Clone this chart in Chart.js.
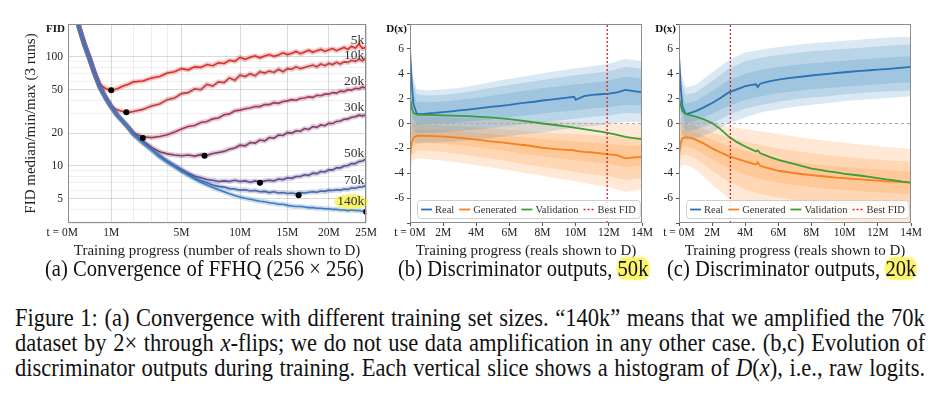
<!DOCTYPE html>
<html>
<head>
<meta charset="utf-8">
<script src="https://cdn.jsdelivr.net/npm/chart.js@4.4.1/dist/chart.umd.min.js"></script>
<style>
  body { margin: 0; background: #fff; width: 940px; height: 394px; overflow: hidden; position: relative; }
  canvas { position: absolute; top: 0; }
  #chartA { left: 0; }
  #chartB { left: 372px; }
  #chartC { left: 641px; }
  .sub { position: absolute; top: 256px; font: 22.5px "Liberation Serif", serif; color: #111; white-space: nowrap; line-height: 26px;
         transform: scaleX(0.915); transform-origin: 0 50%; }
  .hl { display: inline-block; line-height: 21px; background: #fbf46e; border-radius: 8px; box-shadow: 0 0 2px 1px #fbf46e; }
  .cap { position: absolute; left: 15px; display: inline-block; white-space: nowrap; font: 25px "Liberation Serif", serif; color: #111; line-height: 25px;
         transform: scaleX(0.9); transform-origin: 0 50%; }
</style>
</head>
<body>
<canvas id="chartA" width="380" height="262"></canvas>
<canvas id="chartB" width="283" height="262"></canvas>
<canvas id="chartC" width="283" height="262"></canvas>

<div class="sub" style="left:45px">(a) Convergence of FFHQ (256 × 256)</div>
<div class="sub" style="left:398px">(b) Discriminator outputs, <span class="hl">50k</span></div>
<div class="sub" style="left:667px">(c) Discriminator outputs, <span class="hl">20k</span></div>

<div class="cap" style="top:305px">Figure 1: (a) Convergence with different training set sizes. “140k” means that we amplified the 70k</div>
<div class="cap" style="top:330px">dataset by 2× through <i>x</i>-flips; we do not use data amplification in any other case. (b,c) Evolution of</div>
<div class="cap" style="top:355px">discriminator outputs during training. Each vertical slice shows a histogram of <i>D</i>(<i>x</i>), i.e., raw logits.</div>

<script>
// ---- (a) FID vs training progress (millions of reals) ----
const xA = [0.05, 0.1, 0.2, 0.3, 0.45, 0.6, 0.8, 1, 1.25, 1.5, 1.75, 2, 2.5, 3, 3.5, 4, 4.5, 5, 5.5, 6, 6.5, 7, 7.5, 8, 8.5, 9, 9.5, 10,
  10.5, 11, 11.5, 12, 12.5, 13, 13.5, 14, 14.5, 15, 15.5, 16, 16.5, 17, 17.5, 18, 18.5, 19, 19.5, 20, 20.5, 21, 21.5, 22, 22.5, 23, 23.5, 24, 24.5, 25];

const fid5k = [320, 190, 130, 100, 70, 56, 51, 49.5, 51, 54, 56, 59, 60, 64, 66, 71, 73, 78, 76, 81, 80, 85, 83, 88, 87, 93, 91, 99,
  95, 99, 102, 98, 102, 105, 101, 104, 109, 105, 108, 112, 107, 111, 115, 110, 114, 117, 112, 116, 119, 114, 118, 122, 117, 125, 120, 131, 119, 123];
const fid10k = [320, 190, 130, 100, 70, 53, 42, 35, 32.5, 31.5, 31, 31.5, 33, 35.5, 37, 40.5, 42, 46, 47, 51, 50, 56, 54, 59, 58, 64, 61, 68,
  66, 70, 67, 73, 71, 74, 72, 77, 73, 78, 77, 81, 78, 80, 82, 84, 81, 86, 83, 87, 85, 89, 86, 90, 89, 93, 91, 95, 92, 98];
const fid20k = [320, 190, 130, 100, 70, 53, 42, 35, 29, 25.5, 22.5, 20, 18.5, 18.2, 18.6, 19.3, 20.5, 21.8, 23, 23.5, 25, 25.5, 27, 27.5, 29.5, 30, 32, 32.5,
  33.5, 34, 35, 35, 36.5, 36.5, 38, 37.5, 39, 39.5, 40.5, 40, 41.5, 42, 43, 42.5, 44.5, 44, 45.5, 45.5, 47, 46.5, 48.5, 48, 50, 49.5, 51.5, 51, 53, 51.5];
const fid30k = [320, 190, 130, 100, 70, 53, 42, 35, 29, 25.5, 22.5, 19.8, 16.9, 14.8, 13.5, 12.9, 12.6, 12.4, 12.6, 12.3, 12.7, 12.5, 13.0, 13.3, 13.6, 14.2, 14.6, 15.5,
  15.3, 16.4, 16.2, 17.3, 17.0, 18.2, 18.0, 19.2, 19.0, 20.2, 20.0, 21.0, 20.8, 22.0, 21.6, 23.0, 22.6, 23.8, 23.4, 24.6, 24.5, 25.6, 25.8, 26.8, 27.0, 28.0, 28.2, 29.2, 28.8, 29.5];
const fid50k = [320, 190, 130, 100, 70, 53, 42, 35, 29, 25.5, 22.5, 19.6, 16.5, 14.3, 12.4, 11.1, 10.1, 9.3, 8.6, 8.1, 7.8, 7.5, 7.4, 7.2, 7.3, 7.2, 7.4, 7.2,
  7.3, 7.1, 7.3, 7.1, 7.3, 7.4, 7.3, 7.6, 7.5, 7.8, 7.7, 8.0, 8.0, 8.3, 8.2, 8.6, 8.5, 8.9, 8.8, 9.2, 9.2, 9.6, 9.6, 10.0, 10.1, 10.5, 10.5, 11.0, 11.1, 11.6];
const fid70k = [320, 190, 130, 100, 70, 53, 42, 35, 29, 25.5, 22.5, 19.5, 16.4, 14.2, 12.3, 11.0, 10.0, 9.1, 8.4, 7.8, 7.3, 7.0, 6.7, 6.5, 6.4, 6.2, 6.15, 6.0,
  6.05, 5.9, 5.95, 5.8, 5.85, 5.7, 5.8, 5.65, 5.7, 5.6, 5.65, 5.55, 5.7, 5.65, 5.75, 5.8, 5.75, 5.9, 5.85, 6.0, 5.95, 6.05, 6.0, 6.15, 6.1, 6.3, 6.25, 6.4, 6.45, 6.6];
const fid140k = [320, 190, 130, 100, 70, 53, 42, 35, 29, 25.5, 22.5, 19.4, 16.3, 14.0, 12.1, 10.8, 9.8, 8.9, 8.2, 7.6, 7.1, 6.7, 6.35, 6.05, 5.8, 5.55, 5.35, 5.2,
  5.05, 4.95, 4.85, 4.75, 4.7, 4.6, 4.55, 4.45, 4.45, 4.35, 4.3, 4.25, 4.25, 4.2, 4.15, 4.15, 4.1, 4.1, 4.05, 4.05, 4.0, 4.0, 3.95, 3.95, 3.9, 3.95, 3.9, 3.9, 3.85, 3.85];

const sizeNames = ['5k', '10k', '20k', '30k', '50k', '70k', '140k'];
const bestX = [1, 1.65, 2.5, 6.8, 12, 16.3, 25];
const bestFid = [49.5, 31, 18, 12.4, 7.0, 5.4, 3.8];

const xTicksA = [0, 1, 2, 3, 4, 5, 10, 15, 20, 25];
const xLabelsA = [0, 1, 5, 10, 15, 20, 25];
const yTicksA = [3, 4, 5, 6, 7, 8, 9, 10, 20, 30, 40, 50, 60, 70, 80, 90, 100, 200];
const yLabelsA = [5, 10, 20, 50, 100];

// ---- (b) / (c) discriminator outputs ----
const xB = [0, 0.1, 0.2, 0.4, 0.7, 1, 1.5, 2, 2.5, 3, 3.5, 4, 4.5, 5, 5.5, 6, 6.5, 7, 7.5, 8, 8.5, 9, 9.5, 9.9, 10, 10.5, 11, 11.5, 12, 12.5, 13, 13.5, 14];
const realB = [6.0, 3.4, 1.6, 0.8, 0.75, 0.8, 0.85, 0.92, 0.98, 1.05, 1.12, 1.2, 1.28, 1.35, 1.42, 1.5, 1.6, 1.68, 1.75, 1.85, 1.92, 2.0, 2.08, 2.15, 1.9, 2.2, 2.3, 2.35, 2.4, 2.5, 2.7, 2.6, 2.5];
const genB = [-2.6, -1.6, -1.15, -1.0, -0.98, -1.0, -1.02, -1.05, -1.1, -1.15, -1.22, -1.3, -1.38, -1.45, -1.52, -1.6, -1.68, -1.75, -1.85, -1.95, -2.02, -2.08, -2.12, -2.15, -2.2, -2.28, -2.33, -2.4, -2.48, -2.55, -2.8, -2.72, -2.68];
const valB = [2.0, 1.3, 0.85, 0.72, 0.7, 0.69, 0.68, 0.66, 0.64, 0.62, 0.59, 0.56, 0.52, 0.47, 0.41, 0.35, 0.27, 0.18, 0.09, 0.0, -0.08, -0.16, -0.25, -0.33, -0.36, -0.45, -0.55, -0.65, -0.78, -0.92, -1.08, -1.18, -1.25];
const bestB = 11.9;

const xC = [0, 0.1, 0.2, 0.4, 0.7, 1, 1.5, 2, 2.5, 3, 3.5, 4, 4.4, 4.65, 4.75, 4.9, 5.2, 5.5, 6, 6.5, 7, 7.5, 8, 8.5, 9, 9.5, 10, 10.5, 11, 11.5, 12, 12.5, 13, 13.5, 14];
const realC = [5.5, 3.0, 1.4, 0.75, 0.85, 1.0, 1.3, 1.65, 2.05, 2.5, 2.75, 3.0, 3.1, 3.15, 2.92, 3.2, 3.3, 3.4, 3.52, 3.62, 3.7, 3.78, 3.86, 3.93, 3.99, 4.06, 4.12, 4.18, 4.23, 4.28, 4.33, 4.38, 4.44, 4.5, 4.55];
const genC = [-2.6, -1.6, -1.2, -1.1, -1.15, -1.3, -1.62, -2.0, -2.32, -2.62, -2.85, -3.05, -3.2, -3.3, -3.12, -3.4, -3.52, -3.62, -3.8, -3.9, -4.0, -4.08, -4.15, -4.22, -4.28, -4.35, -4.4, -4.45, -4.5, -4.55, -4.6, -4.65, -4.68, -4.72, -4.75];
const valC = [2.0, 1.5, 1.0, 0.75, 0.65, 0.55, 0.33, 0.03, -0.45, -1.05, -1.5, -1.85, -2.1, -2.25, -2.15, -2.4, -2.55, -2.7, -2.92, -3.1, -3.27, -3.45, -3.62, -3.72, -3.85, -3.93, -4.05, -4.12, -4.2, -4.3, -4.4, -4.5, -4.58, -4.68, -4.75];
const bestC = 3.1;

// histogram quantile bands (outer -> inner), sampled coarser
const xBand = [0, 0.15, 0.4, 1, 2, 3, 4, 5, 6, 7, 8, 9, 10, 11, 12, 13, 14];

const realBu3 = [6.2, 4.0, 2.75, 2.65, 2.75, 2.85, 3.1, 3.35, 3.6, 3.8, 4.05, 4.25, 4.45, 4.6, 4.8, 5.2, 5.0];
const realBu2 = [5.7, 3.5, 2.35, 2.25, 2.3, 2.45, 2.65, 2.9, 3.1, 3.3, 3.5, 3.7, 3.9, 4.05, 4.2, 4.55, 4.4];
const realBu1 = [4.8, 2.7, 1.75, 1.7, 1.75, 1.9, 2.05, 2.25, 2.45, 2.65, 2.85, 3.0, 3.15, 3.3, 3.45, 3.75, 3.6];
const realBl1 = [2.0, 0.5, -0.1, -0.05, 0.0, 0.1, 0.2, 0.35, 0.5, 0.65, 0.8, 0.95, 1.05, 1.2, 1.3, 1.5, 1.45];
const realBl2 = [0.8, -0.4, -0.8, -0.75, -0.7, -0.6, -0.5, -0.35, -0.2, -0.05, 0.1, 0.25, 0.4, 0.55, 0.65, 0.85, 0.8];
const realBl3 = [-0.5, -1.3, -1.6, -1.55, -1.5, -1.4, -1.3, -1.15, -1.0, -0.85, -0.7, -0.5, -0.35, -0.2, -0.05, 0.15, 0.1];
const genBu3 = [0.5, 0.7, 0.6, 0.55, 0.5, 0.45, 0.4, 0.35, 0.3, 0.25, 0.2, 0.15, 0.1, 0.05, 0.0, -0.05, 0.0];
const genBu2 = [-0.5, 0.0, -0.05, -0.1, -0.15, -0.2, -0.3, -0.4, -0.5, -0.6, -0.7, -0.8, -0.85, -0.95, -1.0, -1.1, -1.05];
const genBu1 = [-1.5, -0.5, -0.5, -0.5, -0.55, -0.65, -0.75, -0.85, -1.0, -1.1, -1.25, -1.35, -1.45, -1.55, -1.65, -1.8, -1.75];
const genBl1 = [-3.3, -1.9, -1.6, -1.55, -1.6, -1.75, -1.9, -2.05, -2.25, -2.45, -2.65, -2.8, -2.95, -3.1, -3.25, -3.5, -3.4];
const genBl2 = [-3.7, -2.5, -2.2, -2.2, -2.3, -2.45, -2.65, -2.85, -3.05, -3.3, -3.5, -3.7, -3.9, -4.1, -4.25, -4.55, -4.4];
const genBl3 = [-4.2, -3.0, -2.8, -2.85, -3.0, -3.15, -3.35, -3.55, -3.75, -4.0, -4.2, -4.45, -4.65, -4.9, -5.1, -5.5, -5.3];

const realCu3 = [6.0, 4.0, 2.9, 3.1, 4.1, 5.1, 5.7, 5.95, 6.15, 6.3, 6.45, 6.55, 6.65, 6.75, 6.85, 6.95, 6.95];
const realCu2 = [5.5, 3.4, 2.3, 2.5, 3.4, 4.4, 5.0, 5.3, 5.5, 5.65, 5.8, 5.9, 6.0, 6.1, 6.2, 6.3, 6.35];
const realCu1 = [4.5, 2.6, 1.6, 1.8, 2.6, 3.5, 4.0, 4.35, 4.55, 4.7, 4.85, 4.95, 5.05, 5.15, 5.25, 5.35, 5.4];
const realCl1 = [2.5, 0.8, 0.0, 0.2, 0.8, 1.4, 1.9, 2.2, 2.45, 2.6, 2.75, 2.85, 2.95, 3.05, 3.15, 3.25, 3.3];
const realCl2 = [1.5, 0.0, -0.6, -0.5, 0.0, 0.7, 1.2, 1.5, 1.75, 1.95, 2.1, 2.2, 2.35, 2.45, 2.55, 2.6, 2.65];
const realCl3 = [0.5, -0.8, -1.3, -1.2, -0.7, 0.0, 0.5, 0.9, 1.15, 1.35, 1.5, 1.65, 1.8, 1.9, 2.0, 2.1, 2.2];
const genCu3 = [0.3, 0.5, 0.6, 0.4, 0.0, -0.25, -0.45, -0.65, -0.85, -1.05, -1.25, -1.4, -1.55, -1.7, -1.8, -1.95, -2.05];
const genCu2 = [-0.5, -0.1, 0.0, -0.2, -0.7, -1.1, -1.45, -1.75, -2.0, -2.2, -2.4, -2.55, -2.7, -2.8, -2.9, -3.0, -3.05];
const genCu1 = [-1.5, -0.6, -0.5, -0.7, -1.3, -1.8, -2.2, -2.6, -2.85, -3.05, -3.25, -3.4, -3.5, -3.6, -3.7, -3.8, -3.85];
const genCl1 = [-3.0, -1.9, -1.8, -2.1, -2.9, -3.6, -4.1, -4.5, -4.75, -4.95, -5.1, -5.25, -5.35, -5.45, -5.55, -5.6, -5.65];
const genCl2 = [-3.5, -2.6, -2.5, -2.8, -3.8, -4.7, -5.3, -5.7, -5.95, -6.15, -6.3, -6.45, -6.55, -6.65, -6.7, -6.75, -6.8];
const genCl3 = [-4.0, -3.4, -3.3, -3.7, -4.9, -6.0, -6.8, -7.2, -7.45, -7.6, -7.7, -7.8, -7.85, -7.9, -7.95, -8.0, -8.0];

const legendNames = ['Real', 'Generated', 'Validation', 'Best FID'];

// ---- styling ----
const sizeColors = ['#d9302c', '#c43b40', '#a23a57', '#813d6c', '#5f4c8e', '#4866a8', '#3a7dc0'];
const BLUE = '#2a73b5', ORANGE = '#f5801e', GREEN = '#3a9e3a', RED = '#d62728';
const BLUE_RGB = '31,119,180', ORANGE_RGB = '255,127,14';

Chart.defaults.font.family = '"Liberation Serif", "Times New Roman", serif';
Chart.defaults.font.size = 11.5;
Chart.defaults.color = '#222';
Chart.defaults.animation = false;

// x axis of (a) is a power-compressed axis
const POW = 0.6;
class PowScale extends Chart.LinearScale {
  getPixelForValue(value) {
    if (value === null || value === undefined || isNaN(value)) return NaN;
    const d = Math.pow(Math.max(0, (value - this.min) / (this.max - this.min)), POW);
    return this.getPixelForDecimal(d);
  }
  getValueForPixel(pixel) {
    return this.min + (this.max - this.min) * Math.pow(this.getDecimalForPixel(pixel), 1 / POW);
  }
}
PowScale.id = 'pow';
PowScale.defaults = Chart.LinearScale.defaults;
Chart.register(PowScale);

const pts = (xs, ys) => xs.map((x, i) => ({ x: x, y: ys[i] }));

const framePlugin = {
  id: 'frame',
  afterDraw(chart, args, opts) {
    const { ctx, chartArea: a } = chart;
    ctx.save();
    ctx.strokeStyle = '#8c8c8c';
    ctx.lineWidth = 1;
    ctx.strokeRect(Math.round(a.left) + 0.5, Math.round(a.top) + 0.5, Math.round(a.right - a.left) - 1, Math.round(a.bottom - a.top) - 1);
    ctx.font = 'bold 11px "Liberation Serif"';
    ctx.fillStyle = '#111';
    ctx.textAlign = 'right';
    ctx.textBaseline = 'middle';
    ctx.fillText(opts.label, a.left - 3, a.top + 5);
    ctx.restore();
  }
};

// size tags at the right end of each curve in (a)
const tagAt = [140, 104, 59, 34.5, 12.9, 7.3, 4.7];
const curveTags = {
  id: 'curveTags',
  afterDatasetsDraw(chart) {
    const { ctx, chartArea: a, scales } = chart;
    ctx.save();
    ctx.font = '13.5px "Liberation Serif"';
    ctx.textAlign = 'right';
    ctx.textBaseline = 'middle';
    sizeNames.forEach((name, i) => {
      const py = scales.y.getPixelForValue(tagAt[i]);
      if (name === '140k') {
        ctx.fillStyle = 'rgba(250,243,90,0.9)';
        ctx.beginPath();
        ctx.ellipse(a.right - 15, py, 17, 7.5, 0, 0, Math.PI * 2);
        ctx.fill();
      }
      ctx.fillStyle = '#333';
      ctx.fillText(name, a.right - 2, py);
    });
    ctx.restore();
  }
};

const legendBox = {
  id: 'legendBox',
  afterDraw(chart) {
    const { ctx, chartArea: a } = chart;
    const colors = [BLUE, ORANGE, GREEN, RED];
    ctx.save();
    ctx.font = '10.5px "Liberation Serif"';
    const sample = 11, gap = 3, itemGap = 5, pad = 4;
    const widths = legendNames.map(t => ctx.measureText(t).width);
    const w = pad * 2 + widths.reduce((s, v) => s + v + sample + gap, 0) + itemGap * 3;
    const x0 = a.left + 7, y0 = a.bottom - 23, h = 18;
    ctx.fillStyle = 'rgba(255,255,255,0.85)';
    ctx.strokeStyle = '#cfcfcf';
    ctx.lineWidth = 1;
    ctx.beginPath();
    ctx.roundRect(x0 + 0.5, y0 + 0.5, w, h, 3);
    ctx.fill();
    ctx.stroke();
    let x = x0 + pad;
    const cy = y0 + h / 2 + 0.5;
    legendNames.forEach((t, i) => {
      ctx.strokeStyle = colors[i];
      ctx.lineWidth = i === 3 ? 1.3 : 1.8;
      ctx.setLineDash(i === 3 ? [2, 2] : []);
      ctx.beginPath();
      ctx.moveTo(x, cy);
      ctx.lineTo(x + sample, cy);
      ctx.stroke();
      ctx.setLineDash([]);
      ctx.fillStyle = '#333';
      ctx.textBaseline = 'middle';
      ctx.fillText(t, x + sample + gap, cy + 0.5);
      x += sample + gap + widths[i] + itemGap;
    });
    ctx.restore();
  }
};

// ---- chart (a) ----
const curves = [fid5k, fid10k, fid20k, fid30k, fid50k, fid70k, fid140k];
const dsA = [];
curves.forEach((c, i) => {
  const col = sizeColors[i];
  dsA.push({ data: pts(xA, c), borderColor: col + '44', borderWidth: 5, pointRadius: 0, fill: false });
  dsA.push({ data: pts(xA, c), borderColor: col, borderWidth: 1.6, pointRadius: 0, fill: false });
});
dsA.push({ data: pts(bestX, bestFid), showLine: false, pointRadius: 3, pointBackgroundColor: '#000', pointBorderWidth: 0 });
dsA.forEach((d, i) => { d.order = dsA.length - i; });

new Chart(document.getElementById('chartA'), {
  type: 'line',
  data: { datasets: dsA },
  options: {
    responsive: false,
    devicePixelRatio: 1,
    layout: { padding: { left: 18, right: 7, top: 24, bottom: 0 } },
    elements: { line: { tension: 0 } },
    plugins: { legend: { display: false }, tooltip: { enabled: false }, frame: { label: 'FID' } },
    scales: {
      x: {
        type: 'pow', min: 0, max: 25,
        afterBuildTicks: s => { s.ticks = xTicksA.map(v => ({ value: v })); },
        afterFit: s => { s.height = 39; },
        border: { display: false },
        grid: {
          drawTicks: false,
          color: c => xLabelsA.includes(c.tick.value) ? 'rgba(0,0,0,0.15)' : 'rgba(0,0,0,0.07)'
        },
        ticks: {
          autoSkip: false, maxRotation: 0, padding: 3,
          callback: v => v === 0 ? 't = 0M\u2002\u2002' : (xLabelsA.includes(v) ? v + 'M' : '')
        },
        title: { display: true, text: 'Training progress (number of reals shown to D)', font: { size: 15 }, padding: { top: 0, bottom: 2 } }
      },
      y: {
        type: 'logarithmic', min: 3, max: 200,
        afterBuildTicks: s => { s.ticks = yTicksA.map(v => ({ value: v })); },
        afterFit: s => { s.width = 50; },
        border: { display: false },
        grid: {
          drawTicks: false,
          color: c => yLabelsA.includes(c.tick.value) ? 'rgba(0,0,0,0.15)' : 'rgba(0,0,0,0.06)'
        },
        ticks: { autoSkip: false, padding: 5, callback: v => yLabelsA.includes(v) ? String(v) : '' },
        title: { display: true, text: 'FID median/min/max (3 runs)', font: { size: 15 }, padding: { top: 4, bottom: 0 } }
      }
    }
  },
  plugins: [framePlugin, curveTags]
});

// ---- charts (b) and (c) ----
function discChart(id, xs, real, gen, val, realBands, genBands, best) {
  const ds = [];
  const addBands = (lo, hi, rgb) => {
    for (let k = 0; k < lo.length; k++) {
      ds.push({ data: pts(xBand, lo[k]), borderWidth: 0, pointRadius: 0, fill: false });
      ds.push({ data: pts(xBand, hi[k]), borderWidth: 0, pointRadius: 0, fill: '-1', backgroundColor: 'rgba(' + rgb + ',0.17)' });
    }
  };
  addBands(genBands.lo, genBands.hi, ORANGE_RGB);
  addBands(realBands.lo, realBands.hi, BLUE_RGB);
  ds.push({ data: pts([0, 14], [0, 0]), borderColor: '#a8a8a8', borderWidth: 1, borderDash: [3, 3], pointRadius: 0, fill: false });
  ds.push({ data: pts(xs, gen), borderColor: ORANGE, borderWidth: 1.8, pointRadius: 0, fill: false });
  ds.push({ data: pts(xs, real), borderColor: BLUE, borderWidth: 1.8, pointRadius: 0, fill: false });
  ds.push({ data: pts(xs, val), borderColor: GREEN, borderWidth: 1.8, pointRadius: 0, fill: false });
  ds.push({ data: pts([best, best], [-8, 8]), borderColor: RED, borderWidth: 1.3, borderDash: [2, 2], pointRadius: 0, fill: false });
  ds.forEach((d, i) => { d.order = ds.length - i; });

  return new Chart(document.getElementById(id), {
    type: 'line',
    data: { datasets: ds },
    options: {
      responsive: false,
      devicePixelRatio: 1,
      layout: { padding: { left: 0, right: 13, top: 24, bottom: 0 } },
      elements: { line: { tension: 0 } },
      plugins: { legend: { display: false }, tooltip: { enabled: false }, frame: { label: 'D(x)' } },
      scales: {
        x: {
          type: 'linear', min: 0, max: 14,
          afterFit: s => { s.height = 39; },
          border: { display: false },
          grid: { drawOnChartArea: false, tickLength: 3, color: '#555' },
          ticks: { stepSize: 2, autoSkip: false, maxRotation: 0, padding: 0, callback: v => v === 0 ? 't = 0M' : v + 'M' },
          title: { display: true, text: 'Training progress (reals shown to D)', font: { size: 15 }, padding: { top: 0, bottom: 2 } }
        },
        y: {
          type: 'linear', min: -8, max: 8,
          afterFit: s => { s.width = 38; },
          border: { display: false },
          grid: { drawOnChartArea: false, tickLength: 3, color: '#555' },
          ticks: { stepSize: 2, padding: 3, callback: v => Math.abs(v) === 8 ? '' : String(v) }
        }
      }
    },
    plugins: [framePlugin, legendBox]
  });
}

discChart('chartB', xB, realB, genB, valB,
  { lo: [realBl3, realBl2, realBl1], hi: [realBu3, realBu2, realBu1] },
  { lo: [genBl3, genBl2, genBl1], hi: [genBu3, genBu2, genBu1] }, bestB);
discChart('chartC', xC, realC, genC, valC,
  { lo: [realCl3, realCl2, realCl1], hi: [realCu3, realCu2, realCu1] },
  { lo: [genCl3, genCl2, genCl1], hi: [genCu3, genCu2, genCu1] }, bestC);

// stretch each caption line to the full text width, like justified print
const CAP_SCALE = 0.9;
document.querySelectorAll('.cap').forEach(el => {
  const natural = el.offsetWidth;
  const spaces = (el.textContent.match(/ /g) || []).length;
  el.style.wordSpacing = ((910 / CAP_SCALE - natural) / spaces) + 'px';
});
</script>
</body>
</html>
